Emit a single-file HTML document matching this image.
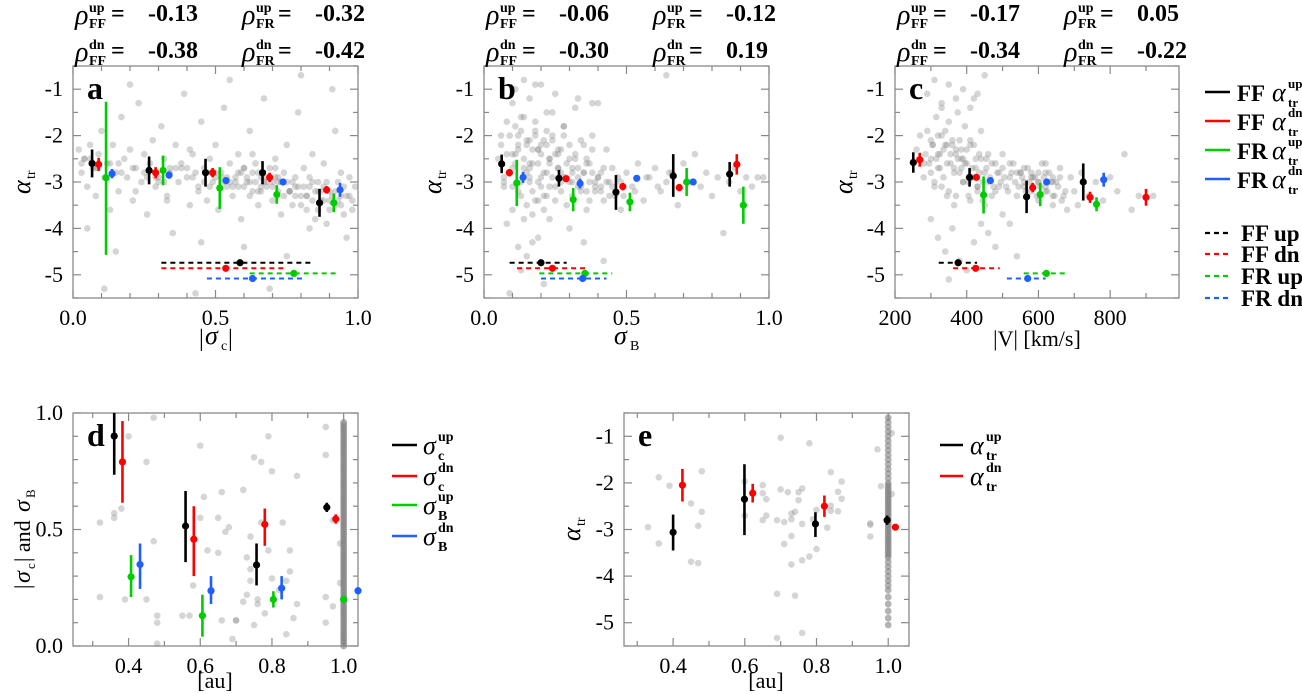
<!DOCTYPE html>
<html><head><meta charset="utf-8">
<style>
html,body{margin:0;padding:0;background:#fff;}
svg{display:block;font-family:"Liberation Serif","DejaVu Serif",serif;}
</style></head>
<body>
<svg id="fig" width="1302" height="694" viewBox="0 0 1302 694" xmlns="http://www.w3.org/2000/svg"></svg>
<script>
// ---------- DATA ----------
const aFFupX=[0.067,0.267,0.465,0.665,0.865], aFFupY=[-2.6,-2.75,-2.8,-2.8,-3.45], aFFupLo=[-2.9,-3.05,-3.1,-3.05,-3.75], aFFupHi=[-2.3,-2.45,-2.5,-2.55,-3.15];
const aFFdnX=[0.09,0.29,0.49,0.69,0.89], aFFdnY=[-2.62,-2.8,-2.8,-2.9,-3.17], aFFdnLo=[-2.76,-2.92,-2.9,-3.0,-3.25], aFFdnHi=[-2.48,-2.68,-2.7,-2.8,-3.09];
const aFRupX=[0.116,0.316,0.515,0.715,0.915], aFRupY=[-2.91,-2.75,-3.13,-3.27,-3.45], aFRupLo=[-4.57,-3.07,-3.58,-3.47,-3.65], aFRupHi=[-1.27,-2.43,-2.68,-3.07,-3.25];
const aFRdnX=[0.137,0.337,0.537,0.737,0.937], aFRdnY=[-2.82,-2.85,-2.97,-3.0,-3.17], aFRdnLo=[-2.92,-2.93,-3.03,-3.05,-3.32], aFRdnHi=[-2.72,-2.77,-2.91,-2.95,-3.02];
const aMedX=[0.586,0.536,0.775,0.63], aMedY=[-4.74,-4.86,-4.97,-5.08], aMedLo=[0.31,0.31,0.62,0.47], aMedHi=[0.84,0.75,0.93,0.81];
const bFFupX=[0.062,0.263,0.463,0.664,0.862], bFFupY=[-2.61,-2.92,-3.22,-2.87,-2.83], bFFupLo=[-2.81,-3.1,-3.6,-3.32,-3.1], bFFupHi=[-2.41,-2.74,-2.85,-2.4,-2.57];
const bFFdnX=[0.089,0.288,0.487,0.685,0.887], bFFdnY=[-2.8,-2.93,-3.1,-3.12,-2.62], bFFdnLo=[-2.88,-2.99,-3.18,-3.2,-2.84], bFFdnHi=[-2.72,-2.87,-3.02,-3.04,-2.4];
const bFRupX=[0.115,0.313,0.512,0.711,0.91], bFRupY=[-3.02,-3.38,-3.43,-3.0,-3.5], bFRupLo=[-3.52,-3.63,-3.63,-3.3,-3.9], bFRupHi=[-2.52,-3.13,-3.23,-2.7,-3.1];
const bFRdnX=[0.137,0.337,0.536,0.734], bFRdnY=[-2.9,-3.03,-2.92,-3.0], bFRdnLo=[-3.02,-3.13,-2.96,-3.03], bFRdnHi=[-2.78,-2.93,-2.88,-2.97];
const bMedX=[0.2,0.24,0.354,0.346], bMedY=[-4.74,-4.86,-4.97,-5.08], bMedLo=[0.09,0.116,0.194,0.2], bMedHi=[0.29,0.36,0.45,0.43];
const cFFupX=[251,408,567,725], cFFupY=[-2.58,-2.9,-3.32,-3.0], cFFupLo=[-2.8,-3.1,-3.67,-3.4], cFFupHi=[-2.36,-2.7,-2.97,-2.6];
const cFFdnX=[269,427,584,744,900], cFFdnY=[-2.52,-2.9,-3.12,-3.33,-3.33], cFFdnLo=[-2.67,-2.95,-3.22,-3.45,-3.51], cFFdnHi=[-2.37,-2.85,-3.02,-3.21,-3.15];
const cFRupX=[447,605,762], cFRupY=[-3.28,-3.27,-3.48], cFRupLo=[-3.68,-3.52,-3.63], cFRupHi=[-2.88,-3.02,-3.33];
const cFRdnX=[466,623,782], cFRdnY=[-2.97,-3.0,-2.95], cFRdnLo=[-3.03,-3.06,-3.1], cFRdnHi=[-2.91,-2.94,-2.8];
const cMedX=[376,425,622,570], cMedY=[-4.74,-4.86,-4.97,-5.08], cMedLo=[322,362,559,512], cMedHi=[429,492,680,620];
const dCupX=[0.36,0.559,0.757,0.953], dCupY=[0.901,0.515,0.348,0.595], dCupLo=[0.735,0.36,0.26,0.575], dCupHi=[1.0,0.665,0.44,0.615];
const dCdnX=[0.383,0.582,0.78,0.978], dCdnY=[0.79,0.458,0.522,0.545], dCdnLo=[0.615,0.3,0.43,0.525], dCdnHi=[0.965,0.6,0.59,0.565];
const dBupX=[0.407,0.606,0.804,1.0], dBupY=[0.297,0.13,0.2,0.2], dBupLo=[0.21,0.04,0.165,0.185], dBupHi=[0.39,0.22,0.235,0.215];
const dBdnX=[0.432,0.63,0.827,1.04], dBdnY=[0.35,0.237,0.248,0.237], dBdnLo=[0.245,0.18,0.2,0.222], dBdnHi=[0.44,0.3,0.3,0.252];
const eUpX=[0.4,0.599,0.797,0.997], eUpY=[-3.06,-2.35,-2.88,-2.8], eUpLo=[-3.45,-3.12,-3.16,-2.9], eUpHi=[-2.68,-1.6,-2.63,-2.7];
const eDnX=[0.426,0.622,0.822,1.02], eDnY=[-2.05,-2.22,-2.5,-2.95], eDnLo=[-2.4,-2.42,-2.73,-2.98], eDnHi=[-1.7,-2.02,-2.27,-2.92];
// Gray scatter clouds
const aPtsX=[0.02,0.03,0.04,0.05,0.06,0.07,0.08,0.09,0.10,0.11,0.12,0.13,0.14,0.15,0.16,0.17,0.18,0.19,0.20,0.21,0.22,0.23,0.24,0.25,0.26,0.27,0.28,0.29,0.30,0.31,0.32,0.33,0.34,0.35,0.36,0.37,0.38,0.39,0.40,0.41,0.42,0.43,0.44,0.45,0.46,0.47,0.48,0.49,0.50,0.51,0.52,0.53,0.54,0.55,0.56,0.57,0.58,0.59,0.60,0.61,0.62,0.63,0.64,0.65,0.66,0.67,0.68,0.69,0.70,0.71,0.72,0.73,0.74,0.75,0.76,0.77,0.78,0.79,0.80,0.81,0.82,0.83,0.84,0.85,0.86,0.87,0.88,0.89,0.90,0.91,0.92,0.93,0.94,0.95,0.96,0.97,0.98,0.99,0.05,0.15,0.45,0.60,0.75,0.11,0.43,0.69,0.20,0.55,0.80,0.30,0.50,0.70,0.65,0.60,0.55,0.58,0.62,0.52,0.48,0.66,0.72,0.78,0.82,0.86,0.90,0.94,0.88,0.84,0.76,0.68,0.57,0.47,0.36,0.26,0.16,0.08,0.04,0.33,0.41,0.63,0.71,0.92,0.96,0.83,
 0.03,0.06,0.09,0.13,0.17,0.21,0.25,0.29,0.34,0.38,0.42,0.46,0.50,0.54,0.58,0.61,0.64,0.67,0.70,0.73,0.76,0.79,0.82,0.85,0.88,0.91,0.94,0.97,0.60,0.63,0.66,0.69,0.72,0.75,0.78,0.81,0.84,0.87,0.90,0.93,0.53,0.56,0.59,0.62,0.65,0.68,0.71,0.74,0.77,0.80,0.83,0.86,0.89,0.92,0.95,0.98,0.22,0.32,0.40,0.44];
const aPtsY=[-2.3,-2.8,-2.5,-3.1,-2.2,-2.7,-3.3,-2.4,-1.9,-2.9,-2.6,-3.6,-2.2,-2.8,-3.2,-1.6,-2.5,-2.9,-2.3,-3.4,-2.7,-1.3,-3.0,-2.4,-3.7,-2.6,-2.1,-3.1,-2.9,-1.8,-2.5,-3.3,-2.7,-4.1,-2.2,-3.0,-2.6,-1.1,-2.9,-3.5,-2.4,-2.8,-3.2,-1.7,-2.7,-3.4,-2.5,-3.0,-2.2,-3.6,-2.8,-1.4,-3.1,-2.6,-3.3,-2.9,-2.4,-3.8,-2.7,-3.0,-1.9,-3.2,-2.6,-3.5,-2.9,-1.2,-3.1,-2.7,-3.4,-2.5,-3.0,-3.7,-2.8,-2.2,-3.2,-3.5,-2.9,-1.5,-3.3,-2.7,-3.6,-3.1,-2.4,-3.8,-3.0,-3.4,-2.6,-3.9,-3.2,-1.0,-3.5,-3.0,-2.8,-3.7,-3.3,-2.9,-3.6,-3.1,-4.0,-4.5,-4.3,-4.4,-4.6,-5.3,-5.4,-5.3,-0.9,-0.8,-0.7,-3.0,-2.9,-3.0,-2.8,-3.1,-3.0,-2.8,-3.3,-2.9,-3.1,-3.2,-2.9,-3.1,-3.3,-3.2,-3.4,-3.3,-3.1,-3.0,-3.2,-2.9,-3.0,-2.8,-2.7,-2.9,-2.6,-2.7,-2.5,-3.4,-2.3,-2.4,-2.7,-1.9,-4.2,-4.0,
 -2.6,-2.5,-2.7,-2.6,-2.8,-2.7,-2.8,-2.9,-2.8,-2.7,-2.9,-3.0,-2.8,-2.9,-3.1,-2.9,-3.0,-3.0,-3.1,-3.0,-3.2,-3.1,-3.3,-3.2,-3.4,-3.3,-3.5,-3.3,-2.7,-2.8,-3.1,-2.9,-3.2,-3.0,-3.3,-3.1,-3.4,-3.2,-3.6,-3.4,-3.0,-3.1,-2.8,-3.0,-3.2,-3.0,-2.9,-3.3,-3.0,-3.5,-2.9,-3.6,-3.0,-3.2,-3.1,-3.4,-3.2,-3.0,-2.7,-3.1];
const bPtsX=[0.05,0.06,0.07,0.08,0.09,0.10,0.10,0.11,0.12,0.12,0.13,0.14,0.14,0.15,0.16,0.16,0.17,0.18,0.18,0.19,0.20,0.20,0.21,0.22,0.22,0.23,0.24,0.25,0.25,0.26,0.27,0.28,0.29,0.30,0.31,0.32,0.33,0.34,0.35,0.36,0.37,0.38,0.39,0.40,0.41,0.42,0.43,0.44,0.45,0.46,0.47,0.48,0.50,0.52,0.54,0.56,0.58,0.60,0.62,0.64,0.66,0.68,0.70,0.72,0.74,0.76,0.78,0.80,0.82,0.84,0.86,0.88,0.90,0.92,0.94,0.96,0.98,0.08,0.12,0.15,0.19,0.09,0.13,0.17,0.21,0.11,0.14,0.18,0.24,0.28,0.33,0.38,0.30,0.35,0.42,0.16,0.20,0.26,0.10,0.13,0.07,0.23,0.27,0.31,0.36,0.40,0.44,0.48,0.53,0.57,0.61,0.65,0.16,0.19,0.22,0.12,0.10,0.64,
 0.06,0.08,0.09,0.11,0.12,0.13,0.14,0.15,0.16,0.17,0.18,0.19,0.20,0.21,0.22,0.23,0.24,0.25,0.26,0.27,0.28,0.29,0.30,0.31,0.32,0.33,0.34,0.35,0.36,0.37,0.38,0.39,0.40,0.41,0.42,0.43,0.07,0.10,0.13,0.15,0.17,0.19,0.21,0.23,0.25,0.27,0.29,0.31,0.33,0.35,0.37,0.39,0.41,0.45,0.49,0.11,0.14,0.16,0.18,0.20,0.22,0.24,0.26,0.28,0.30,0.32,0.34,0.36,0.38,0.15,0.17,0.19,0.21,0.23];
const bPtsY=[-2.5,-2.0,-3.1,-1.7,-2.8,-1.3,-3.6,-2.4,-2.0,-3.2,-1.6,-2.7,-3.8,-2.2,-1.2,-3.0,-2.6,-1.9,-3.4,-2.3,-0.9,-2.9,-2.1,-1.5,-3.3,-2.6,-2.0,-1.1,-3.1,-2.4,-2.8,-1.8,-3.5,-2.5,-3.0,-1.4,-2.7,-3.2,-2.2,-3.6,-2.6,-2.0,-3.1,-1.3,-2.8,-3.4,-2.3,-3.0,-2.7,-3.3,-2.9,-3.6,-2.8,-3.1,-2.6,-3.4,-2.9,-2.7,-3.2,-3.0,-2.8,-3.5,-2.6,-3.0,-2.4,-3.1,-2.8,-3.3,-2.9,-4.1,-3.0,-2.7,-3.2,-2.9,-3.1,-2.9,-2.9,-3.9,-4.4,-4.6,-4.2,-5.4,-4.9,-4.3,-5.2,-1.0,-0.8,-0.9,-1.5,-1.8,-1.2,-1.3,-4.0,-4.3,-4.7,-2.9,-3.1,-2.7,-2.4,-3.3,-3.0,-2.5,-3.0,-2.8,-3.2,-2.9,-3.3,-3.0,-3.2,-2.9,-3.1,-2.8,-2.6,-2.3,-2.8,-2.2,-2.7,-0.7,
 -2.2,-2.4,-2.0,-2.6,-2.3,-1.9,-2.5,-2.1,-2.7,-2.3,-2.0,-2.6,-2.4,-2.8,-2.2,-2.5,-2.9,-2.4,-2.7,-2.3,-2.9,-2.6,-3.0,-2.7,-2.5,-2.9,-3.1,-2.8,-2.6,-3.0,-2.8,-3.2,-2.9,-3.1,-2.7,-3.0,-2.9,-3.1,-3.0,-2.8,-3.2,-3.0,-3.3,-3.1,-3.4,-3.2,-2.9,-3.3,-3.1,-2.8,-3.4,-3.0,-3.2,-3.1,-3.3,-1.8,-1.6,-2.1,-1.7,-2.2,-1.9,-2.1,-2.3,-2.0,-2.2,-2.4,-2.1,-2.5,-2.3,-3.5,-3.7,-3.4,-3.6,-3.8];
const cPtsX=[260,270,280,290,300,305,310,315,320,325,330,335,340,345,350,355,360,365,370,375,380,385,390,395,400,405,410,415,420,425,430,435,440,445,450,455,460,470,480,490,500,510,520,530,540,550,560,570,580,590,600,610,620,630,640,650,660,670,680,690,700,710,720,740,760,780,800,820,840,860,880,920,290,310,330,350,370,390,410,430,450,300,320,340,360,380,400,420,440,460,480,500,520,540,350,330,370,390,410,280,300,320,345,365,385,405,425,560,580,600,620,640,600,620,640,430,550,
 285,295,305,315,325,335,345,355,365,375,385,395,405,415,425,435,445,455,465,475,485,495,505,515,525,535,545,555,565,575,585,595,605,615,625,635,645,655,665,675,300,320,340,360,380,400,420,440,460,480,500,520,540,560,580,600,620,640,660,310,330,350,370,390,410,430,450,470,490];
const cPtsY=[-2.3,-2.0,-2.9,-1.9,-2.5,-2.2,-3.1,-1.6,-2.7,-2.4,-1.4,-2.9,-2.2,-3.3,-1.7,-2.6,-2.1,-3.5,-2.4,-1.5,-2.8,-2.3,-3.0,-1.8,-2.6,-3.3,-2.2,-2.9,-1.2,-2.7,-3.1,-2.4,-1.9,-3.4,-2.8,-2.5,-3.0,-2.6,-3.2,-2.8,-2.4,-3.1,-2.9,-2.6,-3.3,-2.8,-3.0,-2.7,-3.2,-2.9,-3.4,-2.6,-3.1,-2.8,-3.5,-3.0,-2.7,-3.3,-3.6,-2.9,-3.2,-3.5,-2.8,-3.3,-3.0,-3.4,-2.9,-3.2,-2.4,-3.6,-3.3,-3.3,-1.1,-0.8,-1.3,-0.9,-1.2,-1.0,-1.4,-1.1,-0.7,-3.8,-4.2,-4.5,-4.0,-4.7,-4.9,-4.3,-3.9,-4.1,-4.4,-3.7,-3.9,-4.6,-5.1,-2.0,-2.3,-2.5,-2.1,-2.6,-2.8,-2.4,-2.2,-2.7,-2.5,-3.0,-2.9,-3.1,-2.8,-3.0,-2.6,-3.3,-3.0,-3.2,-2.9,-3.1,-2.8,
 -2.4,-2.6,-2.2,-2.5,-2.7,-2.3,-2.6,-2.4,-2.8,-2.5,-2.7,-2.6,-2.9,-2.7,-2.5,-2.8,-3.0,-2.7,-2.9,-3.1,-2.8,-3.0,-2.9,-3.2,-2.8,-3.0,-3.1,-2.9,-3.2,-3.0,-2.9,-3.3,-3.1,-2.9,-3.2,-3.0,-3.3,-3.1,-3.4,-3.2,-2.1,-2.0,-1.9,-2.2,-2.1,-2.3,-2.2,-2.5,-2.4,-2.6,-2.7,-2.6,-2.8,-2.7,-2.9,-2.8,-2.8,-3.0,-2.9,-3.0,-3.1,-3.2,-3.3,-3.0,-3.4,-3.2,-3.5,-3.3,-3.1];
const dPtsX=[0.32,0.32,0.36,0.36,0.38,0.39,0.40,0.45,0.45,0.47,0.47,0.48,0.48,0.48,0.55,0.57,0.60,0.60,0.61,0.62,0.65,0.65,0.66,0.66,0.67,0.68,0.70,0.72,0.73,0.73,0.74,0.74,0.75,0.75,0.76,0.77,0.77,0.78,0.79,0.80,0.80,0.83,0.84,0.85,0.85,0.86,0.87,0.87,0.70,0.69,0.72,0.76,0.79,0.82,0.84,0.95,0.95,0.95,0.95,0.97,0.97,0.99,0.99,0.74,0.63,0.58];
const dPtsY=[0.53,0.21,0.55,0.57,0.59,0.20,0.90,0.79,0.20,0.98,0.45,0.13,0.10,0.01,0.13,0.13,0.55,0.86,0.64,0.41,0.55,0.40,0.11,0.66,0.49,0.51,0.11,0.67,0.38,0.22,0.33,0.28,0.81,0.09,0.18,0.79,0.53,0.14,0.90,0.75,0.29,0.53,0.05,0.41,0.32,0.12,0.18,0.73,0.11,0.03,0.19,0.20,0.41,0.24,0.28,0.94,0.82,0.21,0.10,0.54,0.17,0.44,0.27,0.47,0.24,0.26];
const dColY=[0.0,0.01,0.02,0.03,0.04,0.05,0.06,0.07,0.08,0.09,0.1,0.11,0.12,0.13,0.14,0.15,0.16,0.17,0.18,0.19,0.2,0.21,0.22,0.23,0.24,0.25,0.26,0.27,0.28,0.29,0.3,0.31,0.32,0.33,0.34,0.35,0.36,0.37,0.38,0.39,0.4,0.41,0.42,0.43,0.44,0.45,0.46,0.47,0.48,0.49,0.5,0.51,0.52,0.53,0.54,0.55,0.56,0.57,0.58,0.59,0.6,0.61,0.62,0.63,0.64,0.65,0.66,0.67,0.68,0.69,0.7,0.71,0.72,0.73,0.74,0.75,0.76,0.77,0.78,0.79,0.8,0.81,0.82,0.83,0.84,0.85,0.86,0.87,0.88,0.89,0.9,0.91,0.92,0.93,0.94,0.95,0.96];
const ePtsX=[0.33,0.36,0.36,0.39,0.45,0.45,0.47,0.47,0.48,0.48,0.60,0.60,0.65,0.65,0.65,0.66,0.66,0.69,0.70,0.70,0.71,0.71,0.72,0.73,0.73,0.73,0.74,0.74,0.75,0.75,0.76,0.76,0.76,0.76,0.78,0.78,0.79,0.80,0.80,0.83,0.84,0.84,0.84,0.86,0.86,0.87,0.87,0.95,0.95,0.95,0.97,0.98,1.01,1.01,0.69,0.69,0.73];
const ePtsY=[-2.95,-1.88,-3.3,-2.06,-2.44,-3.69,-2.92,-3.72,-1.75,-2.62,-1.97,-2.7,-2.05,-2.22,-2.8,-2.35,-2.7,-2.8,-1.03,-2.14,-2.84,-3.31,-2.2,-2.66,-3.14,-3.75,-2.62,-4.42,-2.2,-2.37,-2.12,-2.88,-3.66,-5.22,-1.15,-3.58,-2.78,-2.58,-3.42,-2.96,-1.77,-2.49,-2.6,-2.19,-2.61,-1.97,-2.34,-2.87,-3.15,-2.9,-1.28,-2.07,-0.93,-2.24,-5.33,-4.38,-2.78];
const eColY=[-0.6,-0.7,-0.8,-0.9,-1.0,-1.1,-1.2,-1.3,-1.4,-1.5,-1.6,-1.7,-1.8,-1.9,-2.0,-2.05,-2.1,-2.15,-2.2,-2.25,-2.3,-2.35,-2.4,-2.45,-2.5,-2.55,-2.6,-2.65,-2.7,-2.75,-2.8,-2.85,-2.9,-2.95,-3.0,-3.05,-3.1,-3.15,-3.2,-3.25,-3.3,-3.35,-3.4,-3.45,-3.5,-3.55,-3.6,-3.7,-3.8,-3.9,-4.0,-4.1,-4.2,-4.3,-4.45,-4.6,-4.75,-4.9,-5.05];

const xTicksA=[0,0.5,1.0], xTickLabA=["0.0","0.5","1.0"];
const xTicksC=[200,400,600,800], xTickLabC=["200","400","600","800"];
const yTicksTop=[-1,-2,-3,-4,-5], yTickLabTop=["-1","-2","-3","-4","-5"];
const xTicksAU=[0.4,0.6,0.8,1.0], xTickLabAU=["0.4","0.6","0.8","1.0"];
const yTicksD=[0,0.5,1.0], yTickLabD=["0.0","0.5","1.0"];

// ---------- DRAWING ----------
const NS="http://www.w3.org/2000/svg";
const svg=document.getElementById('fig');
function mk(tag,attrs,parent){const e=document.createElementNS(NS,tag);for(const k in attrs)e.setAttribute(k,attrs[k]);(parent||svg).appendChild(e);return e;}
const COL={k:"#000000",r:"#ff0000",g:"#00cc00",b:"#1f5fff"};

function makePanel(name,L,R,T,B,xmin,xmax,ymin,ymax){
  const g=mk('g',{});
  
  
  return {g,L,R,T,B,sx:v=>L+(v-xmin)/(xmax-xmin)*(R-L),sy:v=>B-(v-ymin)/(ymax-ymin)*(B-T),xmin,xmax,ymin,ymax};
}
function frame(p,xMaj,xMin,yMaj,yMin){
  const fr=mk('rect',{x:p.L,y:p.T,width:p.R-p.L,height:p.B-p.T,fill:'none',stroke:'#888','stroke-width':1.3},p.g);
  
  
  const tick=(x1,y1,x2,y2)=>{const t=mk('line',{x1,y1,x2,y2,stroke:'#888','stroke-width':1.2},p.g);};
  let start=Math.ceil(p.xmin/xMin-1e-9)*xMin;
  for(let v=start;v<=p.xmax+1e-9;v+=xMin){const x=p.sx(v);const major=Math.abs(v/xMaj-Math.round(v/xMaj))<1e-6;const l=major?8:5;tick(x,p.B,x,p.B-l);tick(x,p.T,x,p.T+l);}
  start=Math.ceil(p.ymin/yMin-1e-9)*yMin;
  for(let v=start;v<=p.ymax+1e-9;v+=yMin){const y=p.sy(v);const major=Math.abs(v/yMaj-Math.round(v/yMaj))<1e-6;const l=major?8:5;tick(p.L,y,p.L+l,y);tick(p.R,y,p.R-l,y);}
}
function txt(s,x,y,attrs,parent){const t=mk('text',Object.assign({x,y},attrs||{}),parent);t.textContent=s;return t;}
function ticks(p,xs,xl,ys,yl){
  xs.forEach((v,i)=>{const t=txt(xl[i],p.sx(v),p.B+27,{'font-size':22,'text-anchor':'middle'},p.g);});
  ys.forEach((v,i)=>{const t=txt(yl[i],p.L-10,p.sy(v)+7,{'font-size':22,'text-anchor':'end'},p.g);});
}
function scatter(p,xs,ys,op,r){
  xs.forEach((x,i)=>{const c=mk('circle',{cx:p.sx(x),cy:p.sy(ys[i]),r:r||3.3,fill:'#808080','fill-opacity':op||0.33},p.g);});
}
function errbars(p,xs,ys,lo,hi,col,name){
  xs.forEach((x,i)=>{
    const l=mk('line',{x1:p.sx(x),x2:p.sx(x),y1:p.sy(lo[i]),y2:p.sy(hi[i]),stroke:col,'stroke-width':2.6},p.g);
    
    
    const c=mk('circle',{cx:p.sx(x),cy:p.sy(ys[i]),r:3.6,fill:col},p.g);
    
    
  });
}
function medians(p,xs,ys,lo,hi){
  const cols=[COL.k,COL.r,COL.g,COL.b];
  xs.forEach((x,i)=>{
    const l=mk('line',{x1:p.sx(lo[i]),x2:p.sx(hi[i]),y1:p.sy(ys[i]),y2:p.sy(ys[i]),stroke:cols[i],'stroke-width':2,'stroke-dasharray':'5,4'},p.g);
    
    
    const c=mk('circle',{cx:p.sx(x),cy:p.sy(ys[i]),r:3.6,fill:cols[i]},p.g);
    
    
  });
}
function panelLetter(p,s){const t=txt(s,p.L+14,p.T+33,{'font-size':32,'font-weight':'bold'},p.g);}
function alphaLabel(p,cx,cy){
  const g=mk('g',{transform:`translate(${cx},${cy}) rotate(-90)`},p.g);
  
  
  txt('α',-12,0,{'font-size':26,'font-style':'italic'},g);
  txt('tr',3,5,{'font-size':14},g);
}
function rho(ox,y,sub,sup,val){
  const g=mk('g',{});
  
  
  txt('ρ',ox,y+3,{'font-size':28,'font-style':'italic'},g);
  txt(sup,ox+14,y-9,{'font-size':14,'font-weight':'bold'},g);
  txt(sub,ox+14,y+7,{'font-size':14,'font-weight':'bold'},g);
  txt('=',ox+36,y,{'font-size':24,'font-weight':'bold'},g);
  txt(val,ox+73,y,{'font-size':24,'font-weight':'bold'},g);
}

const yMin=-5.5,yMax=-0.5;
// Panel a
const pa=makePanel('panel-a-sigma-c',73,358,66,298,0,1,yMin,yMax);
scatter(pa,aPtsX,aPtsY);
frame(pa,0.5,0.1,1,0.5); ticks(pa,xTicksA,xTickLabA,yTicksTop,yTickLabTop);
errbars(pa,aFFupX,aFFupY,aFFupLo,aFFupHi,COL.k,'ff-up');
errbars(pa,aFFdnX,aFFdnY,aFFdnLo,aFFdnHi,COL.r,'ff-dn');
errbars(pa,aFRupX,aFRupY,aFRupLo,aFRupHi,COL.g,'fr-up');
errbars(pa,aFRdnX,aFRdnY,aFRdnLo,aFRdnHi,COL.b,'fr-dn');
medians(pa,aMedX,aMedY,aMedLo,aMedHi);
panelLetter(pa,'a'); alphaLabel(pa,30,182);
{const g=mk('g',{},pa.g);
 txt('|',199,346,{'font-size':24},g);txt('σ',205,344,{'font-size':26,'font-style':'italic'},g);txt('c',221,350,{'font-size':14},g);txt('|',228,346,{'font-size':24},g);}
// Panel b
const pb=makePanel('panel-b-sigma-b',484,769,66,298,0,1,yMin,yMax);
scatter(pb,bPtsX,bPtsY);
frame(pb,0.5,0.1,1,0.5); ticks(pb,xTicksA,xTickLabA,yTicksTop,yTickLabTop);
errbars(pb,bFFupX,bFFupY,bFFupLo,bFFupHi,COL.k,'ff-up');
errbars(pb,bFFdnX,bFFdnY,bFFdnLo,bFFdnHi,COL.r,'ff-dn');
errbars(pb,bFRupX,bFRupY,bFRupLo,bFRupHi,COL.g,'fr-up');
errbars(pb,bFRdnX,bFRdnY,bFRdnLo,bFRdnHi,COL.b,'fr-dn');
medians(pb,bMedX,bMedY,bMedLo,bMedHi);
panelLetter(pb,'b'); alphaLabel(pb,441,182);
{const g=mk('g',{},pb.g);
 txt('σ',614,344,{'font-size':26,'font-style':'italic'},g);txt('B',630,350,{'font-size':14},g);}
// Panel c
const pc=makePanel('panel-c-speed',895,1179,66,298,200,992,yMin,yMax);
scatter(pc,cPtsX,cPtsY);
frame(pc,200,100,1,0.5); ticks(pc,xTicksC,xTickLabC,yTicksTop,yTickLabTop);
errbars(pc,cFFupX,cFFupY,cFFupLo,cFFupHi,COL.k,'ff-up');
errbars(pc,cFFdnX,cFFdnY,cFFdnLo,cFFdnHi,COL.r,'ff-dn');
errbars(pc,cFRupX,cFRupY,cFRupLo,cFRupHi,COL.g,'fr-up');
errbars(pc,cFRdnX,cFRdnY,cFRdnLo,cFRdnHi,COL.b,'fr-dn');
medians(pc,cMedX,cMedY,cMedLo,cMedHi);
panelLetter(pc,'c'); alphaLabel(pc,852,182);
{const t=txt('|V| [km/s]',1037,346,{'font-size':22,'text-anchor':'middle'},pc.g);}
// Headers
[[75,['-0.13','-0.32','-0.38','-0.42']],[486,['-0.06','-0.12','-0.30','0.19']],[897,['-0.17','0.05','-0.34','-0.22']]].forEach(([ox,v])=>{
  rho(ox,21,'FF','up',v[0]); rho(ox+167,21,'FR','up',v[1]);
  rho(ox,58,'FF','dn',v[2]); rho(ox+167,58,'FR','dn',v[3]);
});
// Top legend
{const lg=mk('g',{});
 const rows=[['FF','up',COL.k,92],['FF','dn',COL.r,121],['FR','up',COL.g,150],['FR','dn',COL.b,179]];
 rows.forEach(([a,s,c,y])=>{const e=mk('g',{},lg);
  mk('line',{x1:1205,x2:1230,y1:y,y2:y,stroke:c,'stroke-width':2.5},e);
  txt(a,1237,y+9,{'font-size':23,'font-weight':'bold'},e);
  txt('α',1272,y+9,{'font-size':26,'font-style':'italic'},e);
  txt(s,1288,y-4,{'font-size':13,'font-weight':'bold'},e);
  txt('tr',1288,y+15,{'font-size':13,'font-weight':'bold'},e);});
 const rows2=[['FF up',COL.k,233],['FF dn',COL.r,254],['FR up',COL.g,276],['FR dn',COL.b,298]];
 rows2.forEach(([a,c,y])=>{const e=mk('g',{},lg);
  mk('line',{x1:1205,x2:1232,y1:y,y2:y,stroke:c,'stroke-width':2.2,'stroke-dasharray':'5,4'},e);
  txt(a,1241,y+8,{'font-size':23,'font-weight':'bold'},e);});
}
// Panel d
const pd=makePanel('panel-d-cross-helicity-vs-distance',73,358,413,646,0.245,1.04,0,1);
scatter(pd,dPtsX,dPtsY);
scatter(pd,dColY.map(()=>1.0),dColY,0.6,3.4);
frame(pd,0.2,0.1,0.5,0.1); ticks(pd,xTicksAU,xTickLabAU,yTicksD,yTickLabD);
errbars(pd,dCupX,dCupY,dCupLo,dCupHi,COL.k,'sigma-c-up');
errbars(pd,dCdnX,dCdnY,dCdnLo,dCdnHi,COL.r,'sigma-c-dn');
errbars(pd,dBupX,dBupY,dBupLo,dBupHi,COL.g,'sigma-b-up');
errbars(pd,dBdnX,dBdnY,dBdnLo,dBdnHi,COL.b,'sigma-b-dn');
panelLetter(pd,'d');
{const g=mk('g',{transform:'translate(30,529) rotate(-90)'},pd.g);
 txt('|',-60,0,{'font-size':22},g);txt('σ',-54,0,{'font-size':24,'font-style':'italic'},g);txt('c',-40,5,{'font-size':13},g);txt('| and',-33,0,{'font-size':22},g);txt('σ',17,0,{'font-size':24,'font-style':'italic'},g);txt('B',31,5,{'font-size':13},g);}
{const t=txt('[au]',215,688,{'font-size':22,'text-anchor':'middle'},pd.g);}
{const lg=mk('g',{});
 [['c','up',COL.k,445],['c','dn',COL.r,476],['B','up',COL.g,505],['B','dn',COL.b,536]].forEach(([s,u,c,y])=>{
  const e=mk('g',{},lg);
  mk('line',{x1:392,x2:417,y1:y,y2:y,stroke:c,'stroke-width':2.5},e);
  txt('σ',423,y+9,{'font-size':26,'font-style':'italic'},e);
  txt(u,438,y-4,{'font-size':14,'font-weight':'bold'},e);
  txt(s,438,y+15,{'font-size':14,'font-weight':'bold'},e);});
}
// Panel e
const pe=makePanel('panel-e-alpha-vs-distance',624,909,413,646,0.263,1.058,yMin,yMax);
scatter(pe,ePtsX,ePtsY);
scatter(pe,eColY.map(()=>1.0),eColY,0.6,3.4);
frame(pe,0.2,0.1,1,0.5); ticks(pe,xTicksAU,xTickLabAU,yTicksTop,yTickLabTop);
errbars(pe,eUpX,eUpY,eUpLo,eUpHi,COL.k,'alpha-up');
errbars(pe,eDnX,eDnY,eDnLo,eDnHi,COL.r,'alpha-dn');
panelLetter(pe,'e'); alphaLabel(pe,580,529);
{const t=txt('[au]',766,688,{'font-size':22,'text-anchor':'middle'},pe.g);}
{const lg=mk('g',{});
 [['up',COL.k,445],['dn',COL.r,476]].forEach(([u,c,y])=>{
  const e=mk('g',{},lg);
  mk('line',{x1:940,x2:963,y1:y,y2:y,stroke:c,'stroke-width':2.5},e);
  txt('α',970,y+9,{'font-size':26,'font-style':'italic'},e);
  txt(u,986,y-4,{'font-size':14,'font-weight':'bold'},e);
  txt('tr',986,y+15,{'font-size':14,'font-weight':'bold'},e);});
}
</script>
</body></html>
